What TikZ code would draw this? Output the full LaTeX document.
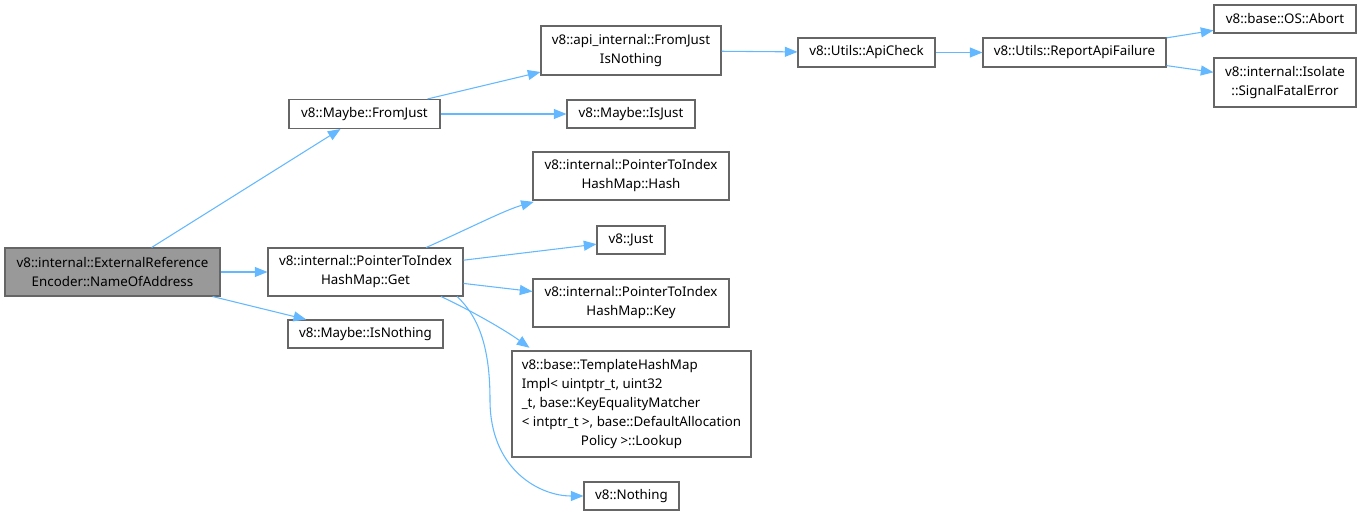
\documentclass[tikz,border=0pt]{standalone}
\usepackage{fontspec}
\setmainfont{Noto Sans}
\usetikzlibrary{arrows.meta}
\definecolor{edgeblue}{HTML}{63B8FF}
\definecolor{boxborder}{HTML}{666666}
\definecolor{rootfill}{HTML}{999999}
\begin{document}
\begin{tikzpicture}[x=0.75pt,y=-0.75pt,
  box/.style={draw=boxborder, fill=white, line width=0.8pt, inner sep=0pt, align=center,
     font=\fontsize{10}{14.25}\selectfont, text=black},
  sz/.style 2 args={minimum width=#1*0.75pt, minimum height=#2*0.75pt},
  root/.style={box, fill=rootfill},
  edge/.style={draw=edgeblue, line width=0.8pt, -{Triangle[length=9.5pt,width=7.5pt]}}]
\useasboundingbox (0,0) rectangle (1363,516);

\node[root, sz={215}{48}] (A) at (112.5,272) {v8::internal::ExternalReference\\Encoder::NameOfAddress};
\node[box, sz={151}{29}] (FromJust) at (364.5,114) {v8::Maybe::FromJust};
\node[box, sz={195}{48}] (Get) at (365.5,272) {v8::internal::PointerToIndex\\HashMap::Get};
\node[box, sz={155}{28}] (IsNothing) at (365.5,334) {v8::Maybe::IsNothing};
\node[box, sz={180}{49}] (FJIN) at (631,50.5) {v8::api\_internal::FromJust\\IsNothing};
\node[box, sz={128}{28}] (IsJust) at (631,114) {v8::Maybe::IsJust};
\node[box, sz={196}{48}] (Hash) at (631,176) {v8::internal::PointerToIndex\\HashMap::Hash};
\node[box, sz={68}{28}] (Just) at (631,240) {v8::Just};
\node[box, sz={196}{48}] (Key) at (631,303) {v8::internal::PointerToIndex\\HashMap::Key};
\node[box, sz={239}{106}] (Lookup) at (631.5,404) {\begin{tabular}{@{}l@{}}v8::base::TemplateHashMap\\Impl< uintptr\_t, uint32\\\_t, base::KeyEqualityMatcher\\< intptr\_t >, base::DefaultAllocation\\\multicolumn{1}{@{}c@{}}{Policy >::Lookup}\end{tabular}};
\node[box, sz={95}{28}] (Nothing) at (631.5,496) {v8::Nothing};
\node[box, sz={137}{29}] (ApiCheck) at (866.5,52.5) {v8::Utils::ApiCheck};
\node[box, sz={183}{29}] (Report) at (1074.5,52.5) {v8::Utils::ReportApiFailure};
\node[box, sz={142}{28}] (Abort) at (1285,19) {v8::base::OS::Abort};
\node[box, sz={142}{49}] (SFE) at (1285,82.5) {v8::internal::Isolate\\::SignalFatalError};

\draw[edge] (A) -- (FromJust);
\draw[edge] (A) -- (Get);
\draw[edge] (A) -- (IsNothing);
\draw[edge] (FromJust) -- (FJIN);
\draw[edge] (FromJust) -- (IsJust);
\draw[edge] (FJIN) -- (ApiCheck);
\draw[edge] (ApiCheck) -- (Report);
\draw[edge] (Report) -- (Abort);
\draw[edge] (Report) -- (SFE);
\draw[edge] (Get.22) .. controls (470,228) and (505,210) .. ([xshift=1pt,yshift=-1pt]Hash.south west);
\draw[edge] (Get) -- (Just);
\draw[edge] (Get) -- (Key);
\draw[edge] (Get.-18) .. controls (470,310) and (505,330) .. ([xshift=13.5pt,yshift=2pt]Lookup.north west);
\draw[edge] (Get.-15.5) .. controls (480,318) and (490,350) .. (490,400) .. controls (490,470) and (540,496) .. (Nothing.west);
\end{tikzpicture}
\end{document}
